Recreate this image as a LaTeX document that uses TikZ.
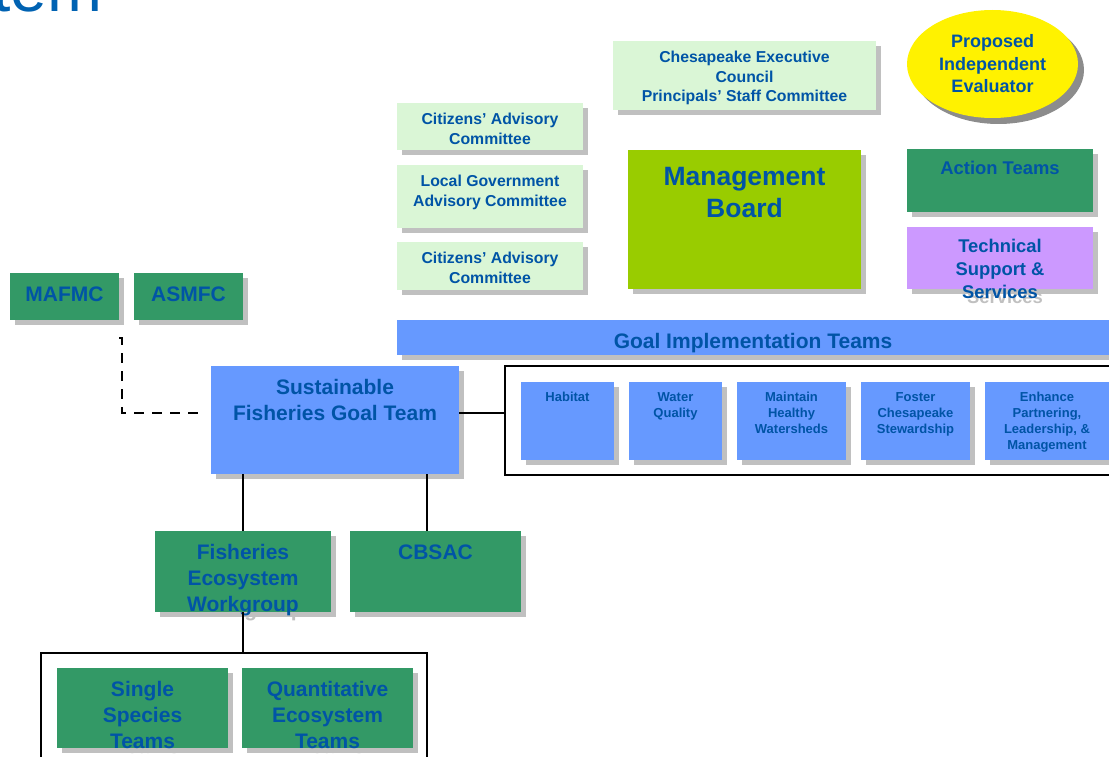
\documentclass[tikz,border=0pt]{standalone}
\usepackage{fontspec}
\setmainfont{Liberation Sans}
\usepackage{xcolor}
\usetikzlibrary{shapes.geometric}

\definecolor{textblue}{RGB}{0,84,166}
\definecolor{titleblue}{RGB}{0,98,178}
\definecolor{paleGreen}{RGB}{218,246,214}
\definecolor{boardGreen}{RGB}{153,204,0}
\definecolor{teamGreen}{RGB}{51,153,102}
\definecolor{goalBlue}{RGB}{102,153,255}
\definecolor{supportPurple}{RGB}{204,153,255}
\definecolor{shadowGray}{RGB}{192,192,192}
\definecolor{ovalShadow}{RGB}{140,140,140}

\newcommand{\councilfont}{\fontsize{15.8}{19.5}\selectfont}
\newcommand{\boardfont}{\fontsize{26.5}{32}\selectfont}
\newcommand{\actionfont}{\fontsize{18.4}{23}\selectfont}
\newcommand{\teamfont}{\fontsize{21}{26}\selectfont}
\newcommand{\goalfont}{\fontsize{13}{16}\selectfont}

% shadowed box: name, fill, font, x, y, width, height, text
\newcommand{\orgbox}[8]{%
  \node[boxshadow] (#1-shadow) at (#4+5,#5+5)
    {\parbox[t][#7pt][t]{#6pt}{\strut}};
  \node[boxface, fill=#2] (#1) at (#4,#5)
    {\parbox[t][#7pt][t]{#6pt}{\centering#3\vspace*{0.65em}#8}};
}
% same, but the text runs out of the box and shows in the shadow too
\newcommand{\ghostbox}[8]{%
  \node[boxshadow] (#1-shadow) at (#4+5,#5+5)
    {\parbox[t][#7pt][t]{#6pt}{\centering#3\vspace*{0.65em}#8}};
  \node[boxface, fill=#2] (#1) at (#4,#5)
    {\parbox[t][#7pt][t]{#6pt}{\centering#3\vspace*{0.65em}#8}};
}

\begin{document}
\begin{tikzpicture}[x=1pt, y=-1pt,
    boxface/.style={anchor=north west, inner sep=0pt, outer sep=0pt, text=textblue, font=\bfseries},
    boxshadow/.style={boxface, fill=shadowGray, text=shadowGray},
    link/.style={line width=1.8pt},
    frame/.style={draw, line width=2pt, anchor=north west, inner sep=0pt, outer sep=0pt}]

    \useasboundingbox (0,0) rectangle (1109,757);

    % title, cut by the page
    \node[anchor=base west, inner sep=0pt, text=titleblue, font=\fontsize{66}{70}\selectfont] (title) at (-8,12) {tem};

    % top row
    \orgbox{council}{paleGreen}{\councilfont}{613}{41}{263}{69}{Chesapeake Executive\\Council\\Principals’ Staff Committee}
    \node[ellipse, fill=ovalShadow, inner sep=0pt, minimum width=171pt, minimum height=108pt] (evaluator-shadow) at (998.5,70) {};
    \node[ellipse, fill=yellow, inner sep=0pt, minimum width=171pt, minimum height=108pt, align=center, text=textblue, font=\bfseries\fontsize{18}{22.5}\selectfont] (evaluator) at (992.5,64) {Proposed\\Independent\\Evaluator};

    \ghostbox{cac}{paleGreen}{\councilfont}{397}{103}{186}{47}{Citizens’ Advisory\\Committee}
    \orgbox{lgac}{paleGreen}{\councilfont}{397}{165}{186}{63}{Local Government\\Advisory Committee}
    \ghostbox{cac2}{paleGreen}{\councilfont}{397}{242}{186}{48}{Citizens’ Advisory\\Committee}

    \orgbox{board}{boardGreen}{\boardfont}{628}{150}{233}{139}{Management\\Board}
    \orgbox{action}{teamGreen}{\actionfont}{907}{149}{186}{63}{Action Teams}
    \ghostbox{support}{supportPurple}{\actionfont}{907}{227}{186}{62}{Technical\\Support \&\\Services}

    \orgbox{git}{goalBlue}{\teamfont}{397}{320}{712}{35}{Goal Implementation Teams}

    % left side
    \orgbox{mafmc}{teamGreen}{\teamfont}{10}{273}{109}{47}{MAFMC}
    \orgbox{asmfc}{teamGreen}{\teamfont}{134}{273}{109}{47}{ASMFC}

    \orgbox{sfgt}{goalBlue}{\teamfont}{211}{366}{248}{108}{Sustainable\\Fisheries Goal Team}

    % goal teams
    \node[frame, minimum width=620pt, minimum height=109pt] (goalframe) at (505,366) {};
    \orgbox{habitat}{goalBlue}{\goalfont}{521}{382}{93}{78}{\vspace*{2pt}Habitat}
    \orgbox{water}{goalBlue}{\goalfont}{629}{382}{93}{78}{\vspace*{2pt}Water\\Quality}
    \orgbox{watersheds}{goalBlue}{\goalfont}{737}{382}{109}{78}{\vspace*{2pt}Maintain\\Healthy\\Watersheds}
    \orgbox{stewardship}{goalBlue}{\goalfont}{861}{382}{109}{78}{\vspace*{2pt}Foster\\Chesapeake\\Stewardship}
    \orgbox{enhance}{goalBlue}{\goalfont}{985}{382}{124}{78}{\vspace*{2pt}Enhance\\Partnering,\\Leadership, \&\\Management}

    % workgroups
    \ghostbox{few}{teamGreen}{\teamfont}{155}{531}{176}{81}{Fisheries\\Ecosystem\\Workgroup}
    \orgbox{cbsac}{teamGreen}{\teamfont}{350}{531}{171}{81}{CBSAC}

    \node[frame, minimum width=386pt, minimum height=130pt] (teamsframe) at (41,653) {};
    \ghostbox{single}{teamGreen}{\teamfont}{57}{668}{171}{80}{Single\\Species\\Teams}
    \ghostbox{quant}{teamGreen}{\teamfont}{242}{668}{171}{80}{Quantitative\\Ecosystem\\Teams}

    % connectors
    \draw[link] ([yshift=7pt]sfgt.east) -- ([yshift=7pt]sfgt.east -| goalframe.west);
    \draw[link] (sfgt.south -| few.north) -- (few.north);
    \draw[link] ([xshift=-8.5pt]cbsac.north |- sfgt.south) -- ([xshift=-8.5pt]cbsac.north);
    \draw[link] (few.south) -- (few.south |- teamsframe.north);

    \coordinate (councilLink) at (119,338);
    \coordinate (sfgtLink) at (198,413);
    \draw[line width=2pt, dash pattern=on 10pt off 8pt] (councilLink) -- ++(3,0) |- (sfgtLink);
\end{tikzpicture}
\end{document}
